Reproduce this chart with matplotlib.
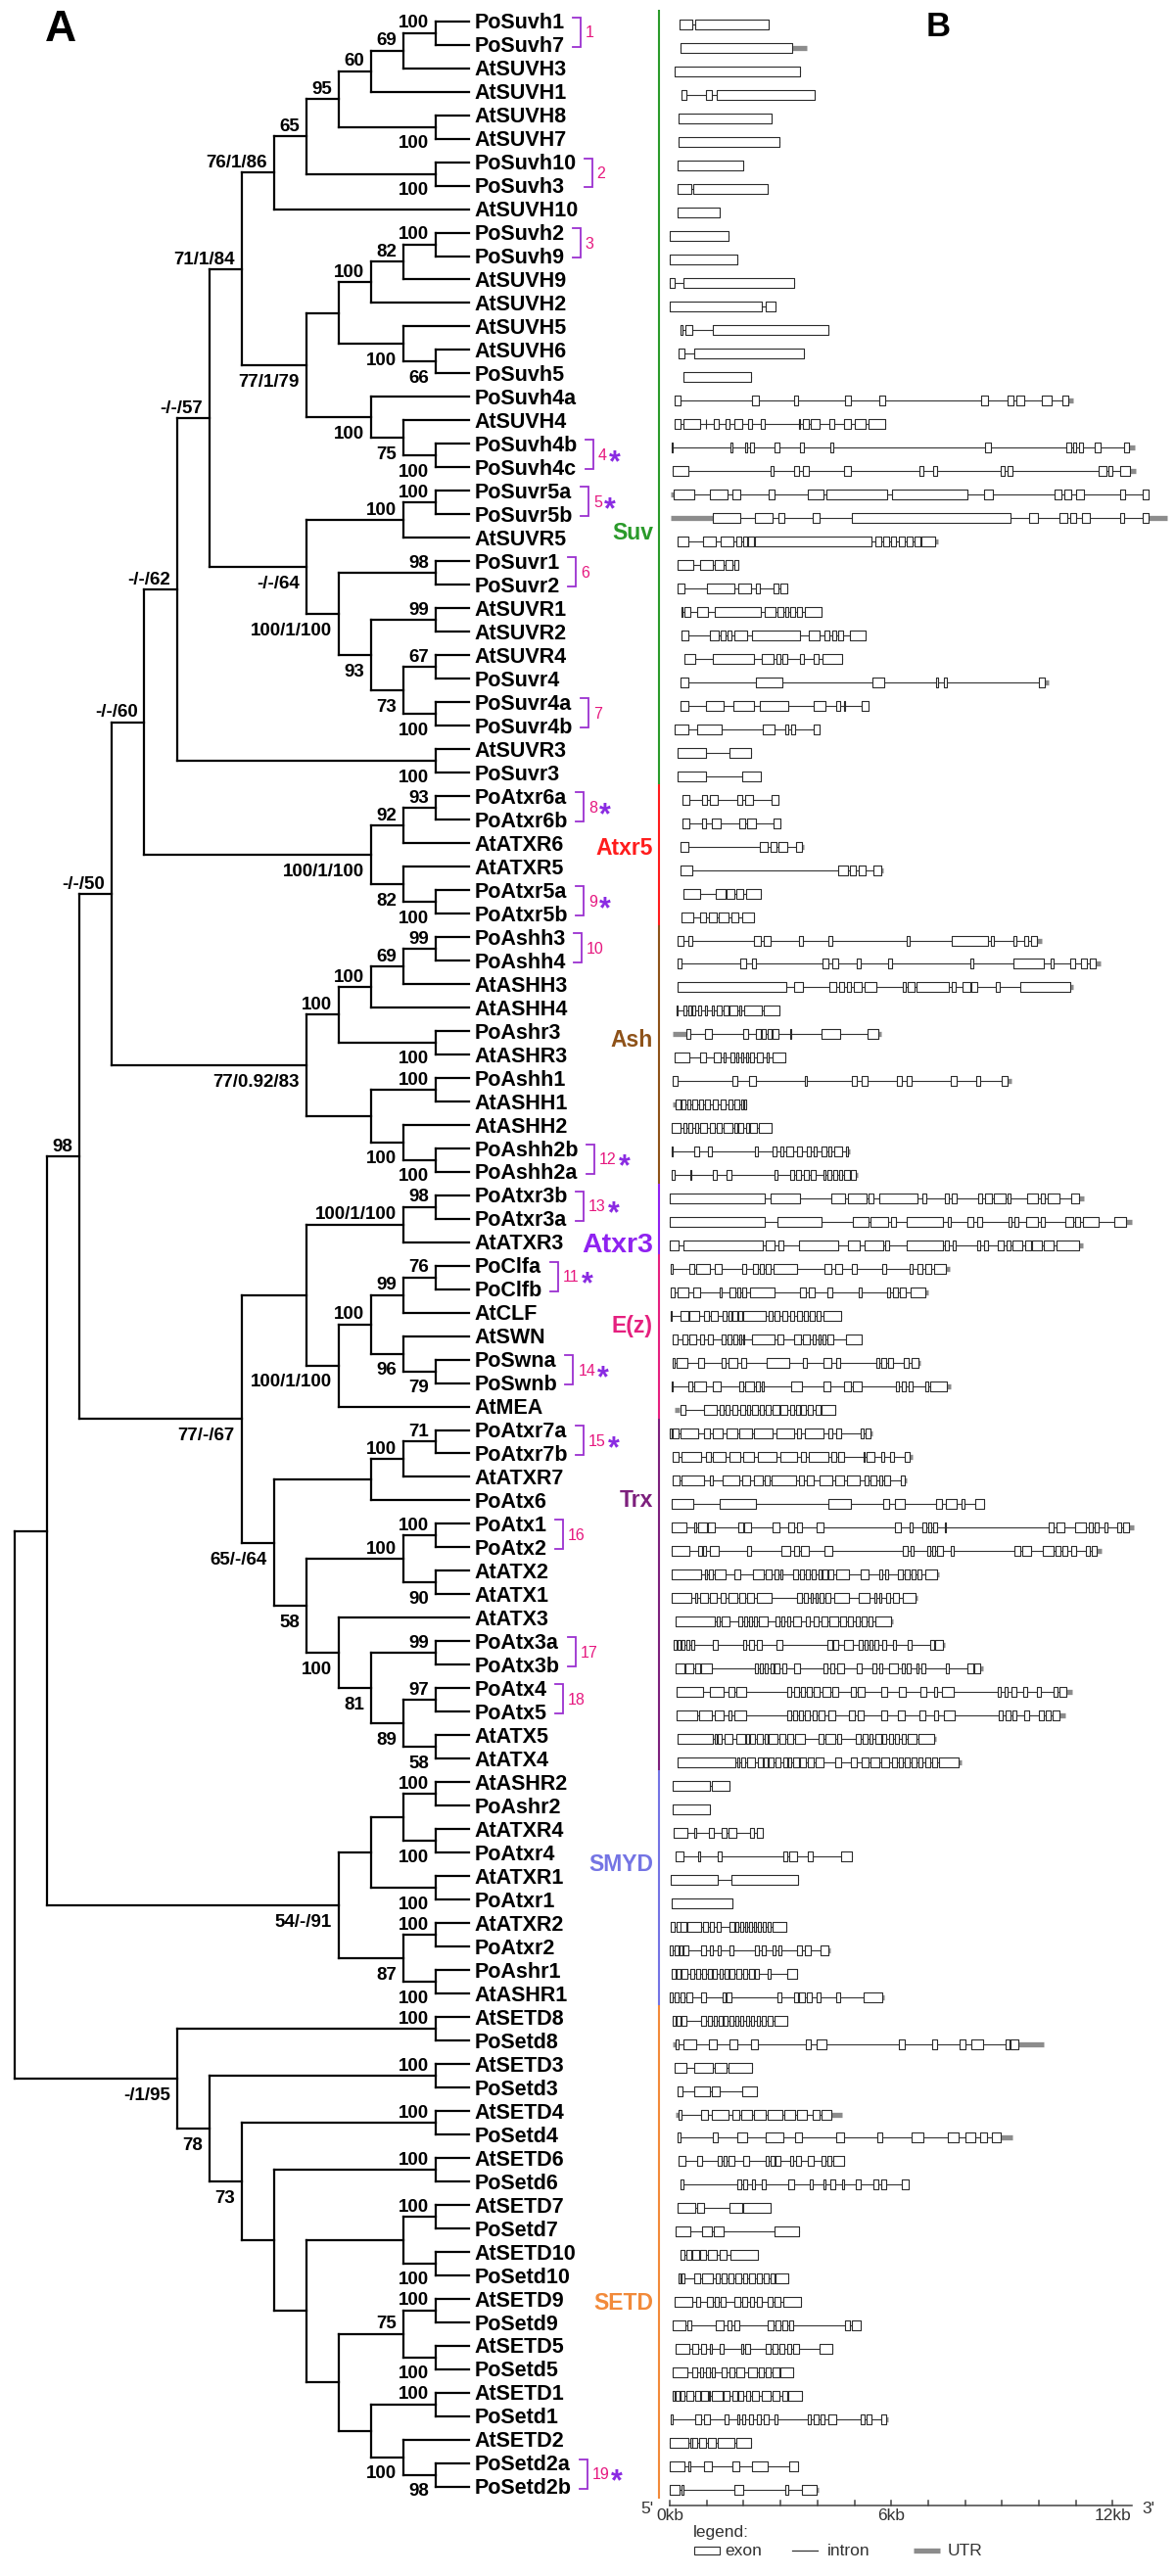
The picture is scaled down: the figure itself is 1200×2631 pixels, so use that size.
import matplotlib
matplotlib.use("Agg")
import matplotlib.pyplot as plt
from matplotlib.patches import Rectangle
from matplotlib.collections import LineCollection, PatchCollection

plt.rcParams['font.family'] = ['Liberation Sans', 'DejaVu Sans']

# ---------------- tree (newick pieces, support values as node labels) ----------------
suvh_a = "((((((PoSuvh1,PoSuvh7)100,AtSUVH3)69,AtSUVH1)60,(AtSUVH8,AtSUVH7)100)95,(PoSuvh10,PoSuvh3)100)65,AtSUVH10)76/1/86"
suvh_b = "((((PoSuvh2,PoSuvh9)100,AtSUVH9)82,AtSUVH2)100,(AtSUVH5,(AtSUVH6,PoSuvh5)66)100)"
suvh_c = "(PoSuvh4a,(AtSUVH4,(PoSuvh4b,PoSuvh4c)100)75)100"
suvr = "(((PoSuvr5a,PoSuvr5b)100,AtSUVR5)100,((PoSuvr1,PoSuvr2)98,((AtSUVR1,AtSUVR2)99,((AtSUVR4,PoSuvr4)67,(PoSuvr4a,PoSuvr4b)100)73)93)100/1/100)-/-/64"
suvr3 = "(AtSUVR3,PoSuvr3)100"
atxr5 = "(((PoAtxr6a,PoAtxr6b)93,AtATXR6)92,(AtATXR5,(PoAtxr5a,PoAtxr5b)100)82)100/1/100"
ash = "(((((PoAshh3,PoAshh4)99,AtASHH3)69,AtASHH4)100,(PoAshr3,AtASHR3)100)100,((PoAshh1,AtASHH1)100,(AtASHH2,(PoAshh2b,PoAshh2a)100)100))77/0.92/83"
atxr3_ez = "(((PoAtxr3b,PoAtxr3a)98,AtATXR3)100/1/100,((((PoClfa,PoClfb)76,AtCLF)99,(AtSWN,(PoSwna,PoSwnb)79)96)100,AtMEA)100/1/100)"
trx = "((((PoAtxr7a,PoAtxr7b)71,AtATXR7)100,PoAtx6),(((PoAtx1,PoAtx2)100,(AtATX2,AtATX1)90)100,(AtATX3,((PoAtx3a,PoAtx3b)99,((PoAtx4,PoAtx5)97,(AtATX5,AtATX4)58)89)81)100)58)65/-/64"
smyd = "((((AtASHR2,PoAshr2)100,(AtATXR4,PoAtxr4)100),(AtATXR1,PoAtxr1)100),((AtATXR2,PoAtxr2)100,(PoAshr1,AtASHR1)100)87)54/-/91"
setd_inner = "(((AtSETD9,PoSetd9)100,(AtSETD5,PoSetd5)100)75,((AtSETD1,PoSetd1)100,(AtSETD2,(PoSetd2a,PoSetd2b)98)100))"
setd = ("((AtSETD8,PoSetd8)100,((AtSETD3,PoSetd3)100,((AtSETD4,PoSetd4)100,((AtSETD6,PoSetd6)100,"
        "(((AtSETD7,PoSetd7)100,(AtSETD10,PoSetd10)100)," + setd_inner + ")))73)78)-/1/95")

n7 = "(" + suvh_a + ",(" + suvh_b + "," + suvh_c + ")77/1/79)71/1/84"
n8 = "(" + n7 + "," + suvr + ")-/-/57"
n9 = "(" + n8 + "," + suvr3 + ")-/-/62"
n10 = "(" + n9 + "," + atxr5 + ")-/-/60"
n11 = "(" + n10 + "," + ash + ")-/-/50"
ez = "(" + atxr3_ez + "," + trx + ")77/-/67"
n12 = "(" + n11 + "," + ez + ")98"
n13 = "(" + n12 + "," + smyd + ")"
tree_newick = "(" + n13 + "," + setd + ");"

# ---------------- groups and paralog pairs ----------------
group_names = ['Suv', 'Atxr5', 'Ash', 'Atxr3', 'E(z)', 'Trx', 'SMYD', 'SETD']
group_sizes = [33, 6, 11, 3, 7, 15, 10, 21]
group_colors = ['#2a9a2a', '#ff1c1c', '#8e5219', '#8f22f0', '#e5207f', '#7d207d', '#7474e4', '#f28a3a']

pair_first = ['PoSuvh1', 'PoSuvh10', 'PoSuvh2', 'PoSuvh4b', 'PoSuvr5a', 'PoSuvr1', 'PoSuvr4a',
              'PoAtxr6a', 'PoAtxr5a', 'PoAshh3', 'PoClfa', 'PoAshh2b', 'PoAtxr3b', 'PoSwna',
              'PoAtxr7a', 'PoAtx1', 'PoAtx3a', 'PoAtx4', 'PoSetd2a']
pair_number = [1, 2, 3, 4, 5, 6, 7, 8, 9, 10, 11, 12, 13, 14, 15, 16, 17, 18, 19]
pair_star = [0, 0, 0, 1, 1, 0, 0, 1, 1, 0, 1, 1, 1, 1, 1, 0, 0, 0, 1]

# ---------------- gene structures: exon start/end pairs in kb, leaf order ----------------
suv_exons = [
    [0.26, 0.62, 0.69, 2.69],                                   # PoSuvh1
    [0.28, 3.31],                                               # PoSuvh7
    [0.13, 3.53],                                               # AtSUVH3
    [0.33, 0.44, 0.99, 1.14, 1.27, 3.92],                       # AtSUVH1
    [0.24, 2.75],                                               # AtSUVH8
    [0.24, 2.98],                                               # AtSUVH7
    [0.20, 1.99],                                               # PoSuvh10
    [0.20, 0.58, 0.64, 2.65],                                   # PoSuvh3
    [0.20, 1.35],                                               # AtSUVH10
    [0.0, 1.59],                                                # PoSuvh2
    [0.0, 1.82],                                                # PoSuvh9
    [0.0, 0.12, 0.38, 3.37],                                    # AtSUVH9
    [0.0, 2.5, 2.59, 2.87],                                     # AtSUVH2
    [0.29, 0.35, 0.42, 0.6, 1.16, 4.31],                        # AtSUVH5
    [0.25, 0.39, 0.65, 3.64],                                   # AtSUVH6
    [0.36, 2.21],                                               # PoSuvh5
    [0.14, 0.28, 2.23, 2.41, 3.38, 3.48, 4.75, 4.92, 5.67, 5.83, 8.44, 8.62,
     9.16, 9.31, 9.40, 9.60, 10.09, 10.35, 10.64, 10.79],       # PoSuvh4a
    [0.14, 0.28, 0.38, 0.83, 0.97, 0.99, 1.2, 1.33, 1.5, 1.61, 1.75, 1.95,
     2.12, 2.24, 2.46, 2.58, 3.51, 3.54, 3.6, 3.76, 3.83, 4.06, 4.32, 4.46,
     4.71, 4.92, 5.01, 5.3, 5.39, 5.83],                        # AtSUVH4
    [0.06, 0.09, 1.65, 1.69, 2.05, 2.09, 2.17, 2.29, 2.83, 2.97, 3.52, 3.63,
     4.34, 4.43, 8.54, 8.70, 10.74, 10.87, 10.92, 11.02, 11.08, 11.2,
     11.5, 11.67, 12.32, 12.44],                                # PoSuvh4b
    [0.09, 0.5, 2.73, 2.81, 3.38, 3.49, 3.61, 3.76, 4.71, 4.91, 6.77, 6.88,
     7.14, 7.25, 8.97, 9.06, 9.14, 9.29, 11.63, 11.82, 11.88, 12.0,
     12.21, 12.46],                                             # PoSuvh4c
    [0.11, 0.65, 1.1, 1.57, 1.71, 1.91, 2.67, 2.83, 3.74, 4.16, 4.25, 5.9,
     6.02, 8.06, 8.51, 8.76, 10.42, 10.61, 10.69, 10.87, 11.0, 11.23,
     12.2, 12.34, 12.81, 12.98],                                # PoSuvr5a
    [1.16, 1.91, 2.32, 2.78, 2.94, 3.10, 3.88, 4.06, 4.94, 9.22, 9.73, 9.98,
     10.56, 10.76, 10.85, 11.01, 11.16, 11.37, 12.19, 12.32, 12.81, 12.96],  # PoSuvr5b
    [0.2, 0.5, 0.9, 1.24, 1.38, 1.72, 1.8, 1.93, 1.98, 2.09, 2.13, 2.28,
     2.3, 5.46, 5.56, 5.74, 5.79, 5.94, 5.99, 6.14, 6.22, 6.37, 6.41, 6.58,
     6.63, 6.79, 6.83, 7.2],                                    # AtSUVR5
    [0.2, 0.64, 0.81, 1.16, 1.23, 1.45, 1.5, 1.71, 1.74, 1.85],  # PoSuvr1
    [0.2, 0.39, 1.0, 1.74, 1.87, 2.21, 2.34, 2.45, 2.8, 2.94, 2.99, 3.17],  # PoSuvr2
    [0.31, 0.35, 0.41, 0.56, 0.74, 1.04, 1.22, 2.46, 2.58, 2.87, 2.93, 3.07,
     3.12, 3.21, 3.27, 3.39, 3.45, 3.58, 3.65, 4.11],           # AtSUVR1
    [0.33, 0.5, 1.08, 1.33, 1.38, 1.52, 1.56, 1.68, 1.74, 2.09, 2.22, 3.54,
     3.76, 4.07, 4.2, 4.32, 4.39, 4.5, 4.57, 4.69, 4.87, 5.3],  # AtSUVR2
    [0.41, 0.69, 1.17, 2.28, 2.5, 2.81, 2.88, 3.01, 3.05, 3.17, 3.52, 3.63,
     3.91, 4.04, 4.15, 4.66],                                   # AtSUVR4
    [0.29, 0.5, 2.34, 3.05, 5.5, 5.81, 7.21, 7.28, 7.43, 7.5, 10.01, 10.17],  # PoSuvr4
    [0.29, 0.51, 0.99, 1.45, 1.72, 2.28, 2.44, 3.21, 3.9, 4.23, 4.5, 4.61,
     4.73, 4.76, 5.19, 5.39],                                   # PoSuvr4a
    [0.13, 0.5, 0.73, 1.4, 2.51, 2.83, 3.13, 3.22, 3.28, 3.4, 3.9, 4.06],  # PoSuvr4b
    [0.2, 0.99, 1.61, 2.2],                                     # AtSUVR3
    [0.2, 0.99, 1.97, 2.46],                                    # PoSuvr3
]

atxr5_exons = [
    [0.35, 0.53, 0.87, 1.02, 1.08, 1.29, 1.82, 1.97, 2.03, 2.25, 2.75, 2.94],  # PoAtxr6a
    [0.35, 0.53, 0.87, 0.99, 1.13, 1.38, 1.89, 2.05, 2.09, 2.34, 2.81, 3.01],  # PoAtxr6b
    [0.29, 0.51, 2.43, 2.66, 2.72, 2.9, 2.94, 3.19, 3.43, 3.58],             # AtATXR6
    [0.29, 0.61, 4.57, 4.82, 4.88, 5.05, 5.11, 5.3, 5.53, 5.72],             # AtATXR5
    [0.38, 0.83, 1.25, 1.5, 1.54, 1.74, 1.8, 2.0, 2.06, 2.46],               # PoAtxr5a
    [0.32, 0.64, 0.81, 0.99, 1.05, 1.27, 1.32, 1.6, 1.68, 1.86, 1.97, 2.28],  # PoAtxr5b
]

ash_exons = [
    [0.2, 0.37, 0.5, 0.61, 2.28, 2.48, 2.55, 2.73, 3.51, 3.61, 4.29, 4.4,
     6.43, 6.5, 7.65, 8.61, 8.7, 8.77, 9.31, 9.4, 9.6, 9.71, 9.78, 9.95],   # PoAshh3
    [0.2, 0.31, 1.91, 2.06, 2.22, 2.33, 4.15, 4.31, 4.39, 4.55, 5.06, 5.17,
     5.92, 6.02, 8.15, 8.22, 9.31, 10.12, 10.31, 10.4, 10.86, 10.97,
     11.15, 11.29, 11.39, 11.54],                               # PoAshh4
    [0.2, 3.16, 3.38, 3.62, 4.33, 4.5, 4.58, 4.72, 4.79, 4.92, 4.98, 5.2,
     5.29, 5.61, 6.31, 6.4, 6.45, 6.62, 6.69, 7.56, 7.65, 7.74, 7.94, 8.13,
     8.18, 8.33, 8.82, 8.93, 9.5, 10.85],                       # AtASHH3
    [0.18, 0.21, 0.38, 0.45, 0.5, 0.58, 0.62, 0.7, 0.76, 0.85, 0.95, 1.02,
     1.13, 1.2, 1.28, 1.4, 1.47, 1.6, 1.63, 1.82, 1.89, 1.94, 2.01, 2.5,
     2.54, 2.98],                                               # AtASHH4
    [0.44, 0.55, 0.95, 1.14, 2.0, 2.12, 2.34, 2.46, 2.5, 2.6, 2.66, 2.75,
     2.79, 2.95, 3.25, 3.28, 4.12, 4.61, 5.37, 5.65],           # PoAshr3
    [0.13, 0.54, 0.83, 0.99, 1.19, 1.39, 1.47, 1.5, 1.65, 1.74, 1.8, 1.87,
     1.93, 2.0, 2.06, 2.13, 2.18, 2.28, 2.35, 2.53, 2.62, 2.68, 2.78, 3.13],  # AtASHR3
    [0.09, 0.21, 1.7, 1.83, 2.15, 2.33, 3.65, 3.71, 4.94, 5.07, 5.21, 5.35,
     6.16, 6.28, 6.42, 6.55, 7.62, 7.78, 8.3, 8.42, 8.99, 9.14],  # PoAshh1
    [0.15, 0.28, 0.33, 0.42, 0.48, 0.57, 0.62, 0.73, 0.79, 0.9, 0.96, 1.1,
     1.16, 1.31, 1.38, 1.52, 1.58, 1.69, 1.74, 1.89, 1.93, 2.0, 2.02, 2.07],  # AtASHH1
    [0.06, 0.29, 0.37, 0.46, 0.51, 0.62, 0.68, 0.77, 0.83, 1.02, 1.08, 1.22,
     1.28, 1.4, 1.47, 1.69, 1.75, 1.82, 1.87, 2.0, 2.06, 2.14, 2.18, 2.37,
     2.41, 2.76],                                               # AtASHH2
    [0.06, 0.09, 0.65, 0.79, 1.04, 1.14, 2.32, 2.4, 2.78, 2.88, 2.99, 3.08,
     3.16, 3.33, 3.44, 3.58, 3.72, 3.83, 3.9, 3.97, 4.11, 4.25, 4.29, 4.38,
     4.46, 4.68, 4.77, 4.84],                                   # PoAshh2b
    [0.06, 0.13, 0.55, 0.59, 1.16, 1.27, 1.54, 1.66, 2.83, 2.92, 3.27, 3.36,
     3.43, 3.56, 3.63, 3.76, 3.83, 3.94, 4.17, 4.22, 4.27, 4.37, 4.44, 4.53,
     4.59, 4.66, 4.72, 4.87, 4.9, 5.03],                        # PoAshh2a
]

atxr3_exons = [
    [0.0, 2.57, 2.72, 3.53, 4.37, 4.75, 4.83, 5.32, 5.39, 5.51, 5.67, 6.72,
     6.84, 6.94, 7.46, 7.55, 7.64, 7.76, 8.35, 8.47, 8.53, 8.74, 8.79, 9.11,
     9.14, 9.23, 9.69, 9.98, 10.04, 10.17, 10.24, 10.55, 10.88, 11.08],  # PoAtxr3b
    [0.0, 2.57, 2.92, 4.11, 4.96, 5.39, 5.44, 5.92, 5.99, 6.13, 6.42, 7.41,
     7.52, 7.6, 8.06, 8.22, 8.33, 8.47, 9.17, 9.27, 9.34, 9.43, 9.66, 9.98,
     10.04, 10.15, 10.72, 10.92, 10.99, 11.11, 11.19, 11.61, 12.03, 12.37],  # PoAtxr3a
    [0.0, 0.23, 0.37, 2.53, 2.59, 2.83, 2.95, 3.07, 3.51, 4.57, 4.83, 5.15,
     5.27, 5.79, 5.84, 5.94, 6.42, 7.39, 7.46, 7.55, 7.66, 7.74, 8.33, 8.42,
     8.51, 8.61, 8.88, 9.04, 9.13, 9.23, 9.28, 9.55, 9.62, 9.78, 9.82, 10.07,
     10.13, 10.39, 10.49, 11.1],                                # AtATXR3
]

ez_exons = [
    [0.03, 0.09, 0.53, 0.67, 0.72, 1.08, 1.22, 1.4, 1.97, 2.06, 2.26, 2.39,
     2.45, 2.55, 2.6, 2.72, 2.82, 3.45, 4.2, 4.37, 4.48, 4.66, 4.94, 5.07,
     5.76, 5.87, 6.51, 6.59, 6.71, 6.84, 6.92, 7.09, 7.16, 7.49],  # PoClfa
    [0.03, 0.12, 0.21, 0.5, 0.64, 0.81, 1.34, 1.4, 1.61, 1.78, 1.82, 1.91,
     1.96, 2.06, 2.17, 2.83, 3.54, 3.68, 3.77, 3.93, 4.28, 4.41, 5.12, 5.19,
     5.9, 5.98, 6.04, 6.17, 6.24, 6.4, 6.53, 6.92],             # PoClfb
    [0.03, 0.06, 0.29, 0.5, 0.53, 0.79, 0.94, 1.05, 1.11, 1.29, 1.43, 1.54,
     1.6, 1.66, 1.71, 1.82, 1.86, 1.97, 1.99, 2.61, 2.68, 2.79, 2.83, 2.96,
     3.05, 3.19, 3.27, 3.38, 3.45, 3.58, 3.63, 3.74, 3.8, 3.93, 3.97, 4.09,
     4.17, 4.63],                                               # AtCLF
    [0.09, 0.2, 0.35, 0.49, 0.53, 0.72, 0.81, 0.94, 1.04, 1.16, 1.4, 1.51,
     1.56, 1.66, 1.72, 1.82, 1.89, 1.93, 1.98, 2.02, 2.22, 2.83, 2.92, 3.07,
     3.36, 3.56, 3.61, 3.79, 3.86, 3.95, 4.02, 4.09, 4.13, 4.22, 4.28, 4.43,
     4.78, 5.19],                                               # AtSWN
    [0.07, 0.13, 0.19, 0.49, 0.76, 0.94, 1.4, 1.5, 1.6, 1.82, 1.94, 2.06,
     2.62, 3.23, 3.61, 3.72, 4.17, 4.38, 4.5, 4.62, 5.61, 5.67, 5.73, 5.85,
     5.91, 6.04, 6.33, 6.46, 6.54, 6.75],                       # PoSwna
    [0.05, 0.08, 0.5, 0.61, 0.67, 0.99, 1.17, 1.38, 1.88, 1.99, 2.05, 2.28,
     2.34, 2.43, 2.49, 2.55, 3.28, 3.58, 4.16, 4.36, 4.73, 4.9, 4.96, 5.21,
     6.13, 6.2, 6.28, 6.4, 6.46, 6.59, 6.91, 7.0, 7.05, 7.5],   # PoSwnb
    [0.28, 0.42, 0.94, 1.28, 1.34, 1.47, 1.52, 1.63, 1.69, 1.83, 1.91, 2.05,
     2.09, 2.18, 2.24, 2.39, 2.43, 2.55, 2.61, 2.72, 2.78, 2.96, 3.01, 3.19,
     3.27, 3.38, 3.43, 3.52, 3.56, 3.7, 3.74, 3.88, 3.95, 4.08, 4.11, 4.48],  # AtMEA
]

trx_exons = [
    [0.0, 0.04, 0.07, 0.23, 0.28, 0.76, 0.92, 1.1, 1.17, 1.43, 1.54, 1.83,
     1.89, 2.22, 2.29, 2.78, 2.89, 3.36, 3.44, 3.56, 3.65, 4.17, 4.3, 4.41,
     4.5, 4.64, 5.17, 5.26, 5.3, 5.44],                         # PoAtxr7a
    [0.07, 0.24, 0.32, 0.86, 0.99, 1.12, 1.17, 1.52, 1.61, 1.91, 2.0, 2.29,
     2.39, 2.88, 2.99, 3.45, 3.56, 3.68, 3.77, 4.29, 4.37, 4.5, 4.56, 4.73,
     5.24, 5.28, 5.32, 5.54, 5.74, 5.82, 5.98, 6.08, 6.37, 6.5],  # PoAtxr7b
    [0.07, 0.26, 0.32, 0.94, 1.08, 1.17, 1.43, 1.89, 1.97, 2.18, 2.28, 2.52,
     2.57, 2.71, 2.75, 3.42, 3.49, 3.63, 3.71, 3.9, 4.05, 4.39, 4.48, 4.73,
     4.8, 5.15, 5.27, 5.38, 5.44, 5.61, 5.67, 5.76, 5.82, 5.96, 6.27, 6.36],  # AtATXR7
    [0.06, 0.64, 1.36, 2.33, 4.29, 4.92, 5.79, 5.93, 6.1, 6.37, 7.21, 7.37,
     7.48, 7.76, 7.9, 7.99, 8.28, 8.51],                        # PoAtx6
    [0.04, 0.46, 0.67, 0.72, 0.78, 1.01, 1.04, 1.23, 1.86, 2.0, 2.02, 2.2,
     2.79, 2.96, 3.22, 3.38, 3.44, 3.59, 3.97, 4.16, 6.11, 6.27, 6.5, 6.59,
     6.84, 6.95, 6.99, 7.07, 7.14, 7.23, 7.46, 7.49, 10.27, 10.39, 10.49, 10.68,
     10.99, 11.28, 11.36, 11.45, 11.5, 11.63, 11.77, 11.86, 12.11, 12.23,
     12.28, 12.44],                                             # PoAtx1
    [0.04, 0.53, 0.78, 0.87, 0.9, 0.99, 1.08, 1.32, 2.09, 2.2, 3.03, 3.25,
     3.38, 3.51, 3.56, 3.76, 4.19, 4.39, 6.31, 6.45, 6.52, 6.61, 6.97, 7.06,
     7.1, 7.18, 7.25, 7.41, 7.6, 7.69, 9.34, 9.5, 9.56, 9.8, 10.1, 10.39,
     10.46, 10.58, 10.64, 10.78, 10.88, 11.01, 11.27, 11.38, 11.43, 11.57],  # PoAtx2
    [0.04, 0.85, 0.95, 1.01, 1.06, 1.17, 1.22, 1.52, 1.74, 1.91, 2.25, 2.55,
     2.61, 2.75, 2.83, 2.94, 2.99, 3.06, 3.35, 3.47, 3.52, 3.63, 3.69, 3.8,
     3.85, 3.95, 4.02, 4.11, 4.15, 4.26, 4.3, 4.44, 4.5, 4.86, 5.16, 5.39,
     5.67, 5.76, 5.83, 5.91, 6.17, 6.31, 6.37, 6.5, 6.56, 6.65, 6.71, 6.82,
     6.93, 7.25],                                               # AtATX2
    [0.04, 0.58, 0.7, 0.73, 0.81, 1.04, 1.08, 1.28, 1.38, 1.5, 1.59, 1.82,
     1.89, 2.05, 2.09, 2.29, 2.37, 2.76, 3.44, 3.58, 3.63, 3.74, 3.81, 3.88,
     3.94, 4.0, 4.05, 4.16, 4.21, 4.36, 4.45, 4.86, 5.12, 5.41, 5.54, 5.61,
     5.67, 5.74, 5.85, 5.96, 6.04, 6.22, 6.31, 6.65],           # AtATX1
    [0.15, 1.22, 1.28, 1.34, 1.4, 1.63, 1.86, 1.95, 2.02, 2.09, 2.15, 2.23,
     2.28, 2.37, 2.42, 2.66, 2.87, 2.96, 3.03, 3.1, 3.17, 3.27, 3.35, 3.56,
     3.7, 3.79, 3.91, 4.04, 4.11, 4.27, 4.33, 4.57, 4.61, 4.78, 4.84, 4.95,
     5.03, 5.15, 5.21, 5.32, 5.39, 5.5, 5.58, 5.99],            # AtATX3
    [0.11, 0.18, 0.22, 0.29, 0.33, 0.41, 0.45, 0.53, 0.58, 0.66, 1.17, 1.31,
     1.98, 2.07, 2.14, 2.29, 2.37, 2.5, 2.9, 3.04, 4.26, 4.39, 4.44, 4.57,
     4.73, 4.95, 5.12, 5.22, 5.27, 5.37, 5.41, 5.49, 5.54, 5.65, 5.76, 5.87,
     6.04, 6.13, 6.45, 6.54, 7.05, 7.16, 7.2, 7.39],            # PoAtx3a
    [0.15, 0.39, 0.42, 0.64, 0.7, 0.83, 0.85, 1.13, 2.32, 2.39, 2.44, 2.52,
     2.57, 2.66, 2.72, 2.81, 2.85, 2.96, 3.06, 3.15, 3.38, 3.53, 4.17, 4.28,
     4.35, 4.46, 4.53, 4.72, 5.06, 5.21, 5.49, 5.6, 5.67, 5.76, 5.94, 6.17,
     6.28, 6.36, 6.41, 6.52, 6.68, 6.75, 6.81, 6.93, 7.49, 7.57, 8.06, 8.22,
     8.26, 8.42],                                               # PoAtx3b
    [0.18, 0.9, 1.1, 1.47, 1.59, 1.74, 1.8, 2.06, 3.17, 3.3, 3.38, 3.5,
     3.56, 3.67, 3.72, 3.85, 3.91, 4.07, 4.14, 4.34, 4.4, 4.57, 4.9, 5.03,
     5.1, 5.28, 5.72, 5.9, 6.2, 6.39, 6.79, 6.94, 7.16, 7.25, 7.38, 7.69,
     8.88, 8.97, 9.06, 9.16, 9.25, 9.39, 9.57, 9.68, 9.95, 10.05, 10.39, 10.51,
     10.57, 10.74],                                             # PoAtx4
    [0.18, 0.74, 0.8, 1.13, 1.22, 1.45, 1.59, 1.68, 1.75, 2.06, 3.17, 3.28,
     3.34, 3.45, 3.49, 3.61, 3.67, 3.8, 3.86, 3.97, 4.03, 4.2, 4.29, 4.48,
     4.86, 5.01, 5.1, 5.26, 5.73, 5.9, 6.18, 6.37, 6.77, 6.92, 7.16, 7.26,
     7.43, 7.71, 8.9, 9.02, 9.09, 9.23, 9.28, 9.39, 9.61, 9.73, 9.99, 10.12,
     10.19, 10.32, 10.38, 10.56],                               # PoAtx5
    [0.21, 1.16, 1.21, 1.27, 1.3, 1.41, 1.48, 1.71, 1.8, 2.03, 2.07, 2.14,
     2.17, 2.32, 2.37, 2.51, 2.57, 2.64, 2.69, 2.92, 2.98, 3.12, 3.17, 3.33,
     3.39, 3.65, 4.02, 4.16, 4.22, 4.48, 4.54, 4.63, 5.03, 5.17, 5.22, 5.37,
     5.42, 5.5, 5.58, 5.72, 5.76, 5.87, 5.93, 6.04, 6.1, 6.22, 6.28, 6.39,
     6.44, 6.68, 6.75, 7.16],                                   # AtATX5
    [0.21, 1.79, 1.83, 1.89, 1.93, 2.05, 2.09, 2.32, 2.39, 2.51, 2.55, 2.64,
     2.69, 2.81, 2.87, 3.01, 3.07, 3.17, 3.21, 3.3, 3.35, 3.49, 3.54, 3.7,
     3.74, 3.89, 3.94, 4.16, 4.48, 4.63, 4.9, 5.07, 5.21, 5.39, 5.45, 5.67,
     5.72, 5.94, 6.02, 6.15, 6.2, 6.31, 6.37, 6.5, 6.55, 6.68, 6.73, 6.84,
     6.91, 7.05, 7.12, 7.25, 7.3, 7.83],                        # AtATX4
]

smyd_exons = [
    [0.07, 1.08, 1.14, 1.63],                                   # AtASHR2
    [0.07, 1.08],                                               # PoAshr2
    [0.11, 0.49, 0.67, 0.72, 1.06, 1.19, 1.41, 1.54, 1.59, 1.8, 2.18, 2.29,
     2.36, 2.53],                                               # AtATXR4
    [0.15, 0.37, 0.78, 0.83, 1.29, 1.4, 3.07, 3.19, 3.23, 3.44, 3.74, 3.86,
     4.63, 4.94],                                               # PoAtxr4
    [0.03, 1.31, 1.68, 3.47],                                   # AtATXR1
    [0.06, 1.71],                                               # PoAtxr1
    [0.03, 0.14, 0.18, 0.28, 0.3, 0.46, 0.49, 0.85, 0.9, 1.04, 1.08, 1.19,
     1.28, 1.39, 1.61, 1.74, 1.79, 1.86, 1.91, 1.98, 2.03, 2.1, 2.15, 2.22,
     2.27, 2.34, 2.39, 2.46, 2.51, 2.6, 2.64, 2.73, 2.78, 3.15],  # AtATXR2
    [0.0, 0.09, 0.13, 0.23, 0.26, 0.35, 0.38, 0.51, 0.85, 0.97, 1.08, 1.17,
     1.29, 1.38, 1.61, 1.72, 2.32, 2.41, 2.5, 2.6, 2.78, 2.87, 2.94, 3.03,
     3.45, 3.58, 3.65, 3.83, 4.09, 4.29],                       # PoAtxr2
    [0.06, 0.15, 0.18, 0.28, 0.32, 0.49, 0.56, 0.67, 0.72, 0.83, 0.88, 0.99,
     1.04, 1.13, 1.17, 1.28, 1.34, 1.43, 1.48, 1.59, 1.63, 1.74, 1.8, 1.93,
     1.98, 2.09, 2.16, 2.29, 2.32, 2.41, 2.64, 2.72, 3.17, 3.44],  # PoAshr1
    [0.0, 0.07, 0.14, 0.24, 0.28, 0.39, 0.44, 0.62, 0.85, 0.99, 1.43, 1.5,
     1.54, 1.68, 2.92, 3.03, 3.38, 3.47, 3.51, 3.65, 3.72, 3.85, 3.97, 4.08,
     4.52, 4.61, 5.26, 5.76],                                   # AtASHR1
]

setd_exons = [
    [0.09, 0.15, 0.19, 0.3, 0.33, 0.44, 0.86, 0.99, 1.04, 1.15, 1.2, 1.28,
     1.33, 1.42, 1.47, 1.57, 1.61, 1.72, 1.77, 1.86, 1.91, 2.0, 2.06, 2.15,
     2.2, 2.29, 2.35, 2.44, 2.49, 2.6, 2.64, 2.78, 2.83, 3.17],  # AtSETD8
    [0.17, 0.24, 0.37, 0.72, 1.06, 1.28, 1.63, 1.83, 2.2, 2.39, 3.7, 3.83,
     3.99, 4.25, 6.2, 6.37, 7.12, 7.23, 7.85, 8.01, 8.17, 8.49, 9.09, 9.2,
     9.22, 9.43],                                               # PoSetd8
    [0.12, 0.46, 0.65, 1.17, 1.23, 1.54, 1.6, 2.23],            # AtSETD3
    [0.21, 0.35, 0.67, 1.1, 1.14, 1.36, 1.96, 2.35],            # PoSetd3
    [0.23, 0.32, 0.85, 1.04, 1.13, 1.59, 1.71, 1.89, 1.94, 2.23, 2.28, 2.6,
     2.64, 3.06, 3.1, 3.39, 3.45, 3.72, 3.86, 4.06, 4.11, 4.37],  # AtSETD4
    [0.21, 0.28, 1.17, 1.29, 1.83, 2.09, 2.61, 3.08, 3.39, 3.58, 4.52, 4.71,
     5.63, 5.76, 6.56, 6.86, 7.53, 7.83, 8.01, 8.28, 8.42, 8.59, 8.74, 8.97],  # PoSetd4
    [0.24, 0.42, 0.73, 0.87, 1.31, 1.4, 1.45, 1.54, 1.59, 1.74, 2.0, 2.14,
     2.6, 2.69, 2.73, 2.83, 2.86, 3.01, 3.27, 3.35, 3.42, 3.56, 3.74, 3.9,
     4.11, 4.22, 4.27, 4.38, 4.44, 4.73],                       # AtSETD6
    [0.28, 0.37, 1.83, 1.94, 2.0, 2.09, 2.23, 2.32, 2.49, 2.61, 3.21, 3.38,
     3.78, 3.87, 4.17, 4.22, 4.35, 4.48, 4.66, 4.72, 5.03, 5.17, 5.51, 5.65,
     5.72, 5.87, 6.29, 6.46],                                   # PoSetd6
    [0.21, 0.7, 0.73, 0.94, 1.61, 1.95, 2.0, 2.72],             # AtSETD7
    [0.17, 0.55, 0.88, 1.13, 1.19, 1.45, 2.84, 3.5],            # PoSetd7
    [0.29, 0.41, 0.45, 0.58, 0.62, 0.79, 0.83, 0.99, 1.04, 1.28, 1.34, 1.54,
     1.65, 2.39],                                               # AtSETD10
    [0.24, 0.28, 0.32, 0.41, 0.67, 0.83, 0.88, 1.17, 1.24, 1.36, 1.41, 1.54,
     1.6, 1.72, 1.78, 1.94, 1.99, 2.09, 2.14, 2.32, 2.37, 2.5, 2.55, 2.69,
     2.73, 2.83, 2.87, 3.21],                                   # PoSetd10
    [0.12, 0.6, 0.72, 0.83, 1.01, 1.17, 1.22, 1.32, 1.38, 1.5, 1.74, 1.91,
     1.95, 2.09, 2.17, 2.29, 2.35, 2.5, 2.64, 2.78, 2.83, 3.01, 3.08, 3.56],  # AtSETD9
    [0.07, 0.42, 0.49, 0.58, 1.25, 1.47, 1.56, 1.68, 1.74, 1.89, 2.66, 2.81,
     2.87, 2.99, 3.06, 3.19, 3.24, 3.35, 4.75, 4.89, 4.94, 5.18],  # PoSetd9
    [0.17, 0.53, 0.6, 0.78, 0.85, 0.99, 1.08, 1.13, 1.34, 1.45, 1.93, 2.0,
     2.05, 2.18, 2.6, 2.73, 2.78, 2.92, 2.96, 3.1, 3.17, 3.3, 3.35, 3.49,
     4.06, 4.41],                                               # AtSETD5
    [0.07, 0.47, 0.62, 0.73, 0.81, 0.9, 0.97, 1.08, 1.14, 1.22, 1.4, 1.54,
     1.63, 1.74, 1.8, 2.02, 2.12, 2.35, 2.41, 2.55, 2.61, 2.73, 2.78, 2.96,
     3.01, 3.35],                                               # PoSetd5
    [0.09, 0.13, 0.17, 0.26, 0.29, 0.39, 0.44, 0.64, 0.7, 0.81, 0.85, 1.04,
     1.07, 1.1, 1.14, 1.43, 1.47, 1.63, 1.7, 1.82, 1.86, 2.0, 2.06, 2.18,
     2.24, 2.41, 2.5, 2.72, 2.78, 2.96, 3.06, 3.17, 3.22, 3.58],  # AtSETD1
    [0.03, 0.09, 0.7, 0.85, 0.94, 1.08, 1.48, 1.59, 1.83, 1.89, 1.95, 2.05,
     2.14, 2.26, 2.35, 2.46, 2.55, 2.69, 2.83, 2.92, 3.74, 3.83, 3.9, 4.04,
     4.09, 4.18, 4.29, 4.52, 5.17, 5.28, 5.33, 5.46, 5.72, 5.87],  # PoSetd1
    [0.0, 0.51, 0.56, 0.6, 0.62, 0.73, 0.79, 0.97, 1.04, 1.25, 1.3, 1.74,
     1.8, 2.2],                                                 # AtSETD2
    [0.0, 0.41, 0.51, 0.55, 0.94, 1.15, 1.7, 1.88, 2.24, 2.66, 3.24, 3.47],  # PoSetd2a
    [0.0, 0.26, 0.33, 0.38, 1.74, 1.98, 3.12, 3.22, 3.58, 3.97],  # PoSetd2b
]

utr_segments = [
    ('PoSuvh7', 3.31, 3.72), ('PoSuvh4a', 10.79, 10.92), ('PoSuvh4b', 12.44, 12.6),
    ('PoSuvh4c', 12.46, 12.62), ('PoSuvr5a', 0.02, 0.11), ('PoSuvr5b', 0.02, 1.16),
    ('PoSuvr5b', 12.96, 13.47), ('AtSUVR5', 7.2, 7.28), ('PoSuvr4', 10.17, 10.26),
    ('AtATXR6', 3.58, 3.64), ('AtATXR5', 5.72, 5.79), ('PoAshh3', 9.95, 10.07),
    ('PoAshh4', 11.54, 11.68), ('AtASHH3', 10.85, 10.94), ('PoAshr3', 0.09, 0.44),
    ('PoAshr3', 5.65, 5.72), ('PoAshh1', 9.14, 9.25), ('AtASHH1', 0.09, 0.15),
    ('PoAshh2b', 4.84, 4.89), ('PoAshh2a', 5.03, 5.1), ('PoAtxr3b', 11.08, 11.23),
    ('PoAtxr3a', 12.37, 12.53), ('AtATXR3', 11.1, 11.19), ('PoClfa', 7.49, 7.58),
    ('PoClfb', 6.92, 7.0), ('PoSwna', 6.75, 6.8), ('PoSwnb', 7.5, 7.6),
    ('AtMEA', 0.12, 0.26), ('PoAtxr7a', 5.44, 5.5), ('PoAtxr7b', 6.5, 6.58),
    ('AtATXR7', 6.36, 6.42), ('PoAtx1', 12.44, 12.57), ('PoAtx2', 11.57, 11.71),
    ('AtATX2', 7.25, 7.3), ('AtATX1', 6.65, 6.7), ('AtATX3', 5.99, 6.04),
    ('PoAtx3a', 7.39, 7.45), ('PoAtx3b', 8.42, 8.5), ('PoAtx4', 10.74, 10.9),
    ('PoAtx5', 10.56, 10.72), ('AtATX5', 7.16, 7.22), ('AtATX4', 7.83, 7.9),
    ('PoAtxr2', 4.29, 4.34), ('AtASHR1', 5.76, 5.81), ('PoSetd8', 0.07, 0.17),
    ('PoSetd8', 9.43, 10.12), ('AtSETD4', 0.17, 0.23), ('AtSETD4', 4.37, 4.66),
    ('PoSetd4', 8.97, 9.29), ('PoSetd1', 5.87, 5.92), ('PoSetd2b', 3.97, 4.02),
]

scale_ticks = list(range(13))
scale_labels = {0: '0kb', 6: '6kb', 12: '12kb'}

# ---------------- layout (pixels of the 1200x2631 canvas) ----------------
W, H = 1200, 2631
ROW0, ROW = 21.7, 23.98          # first leaf centre, leaf spacing
TIP_PX, STEP_PX = 478.5, 33.1    # tip x, width of one cladogram level
KB0_PX, KB_PX = 684.0, 37.7      # 0 kb position, pixels per kb
group_label_rows = [21.8, 35.25, 43.4, 52.15, 55.6, 63.0, 78.5, 97.2]
group_label_size = [16.5, 16.5, 16.5, 20.5, 16.5, 16.5, 16.5, 16.5]


def parse_newick(text):
    pos = 0

    def read_label():
        nonlocal pos
        start = pos
        while pos < len(text) and text[pos] not in ',();':
            pos += 1
        return text[start:pos]

    def node():
        nonlocal pos
        kids = []
        if text[pos] == '(':
            pos += 1
            kids.append(node())
            while text[pos] == ',':
                pos += 1
                kids.append(node())
            assert text[pos] == ')'
            pos += 1
        return {'kids': kids, 'label': read_label()}

    root = node()
    assert text[pos] == ';'
    return root


root = parse_newick(tree_newick)
leaves = []


def layout(node):
    if not node['kids']:
        node['level'] = 0
        node['y'] = len(leaves)
        leaves.append(node)
    else:
        for k in node['kids']:
            layout(k)
        node['level'] = 1 + max(k['level'] for k in node['kids'])
        node['y'] = (node['kids'][0]['y'] + node['kids'][-1]['y']) / 2
    node['x'] = -node['level']


layout(root)
leaf_names = [l['label'] for l in leaves]
all_exons = suv_exons + atxr5_exons + ash_exons + atxr3_exons + ez_exons + trx_exons + smyd_exons + setd_exons
assert len(leaf_names) == len(all_exons) == sum(group_sizes)
row_of = {n: i for i, n in enumerate(leaf_names)}

fig = plt.figure(figsize=(W / 100, H / 100), dpi=100)
ax = fig.add_axes([0, 0, 1, 1])
ax.set_xlim(-TIP_PX / STEP_PX, (W - TIP_PX) / STEP_PX)
ax.set_ylim((H - ROW0) / ROW, -ROW0 / ROW)
ax.axis('off')

gx = fig.add_axes([660 / W, 0, 540 / W, 1])
gx.set_xlim((660 - KB0_PX) / KB_PX, (W - KB0_PX) / KB_PX)
gx.set_ylim(ax.get_ylim())
gx.axis('off')

# ---- tree branches ----
segs = []


def collect(node):
    for k in node['kids']:
        segs.append([(node['x'], k['y']), (k['x'], k['y'])])
        collect(k)
    if node['kids']:
        segs.append([(node['x'], node['kids'][0]['y']), (node['x'], node['kids'][-1]['y'])])


collect(root)
ax.add_collection(LineCollection(segs, colors='black', linewidths=1.6, capstyle='projecting'))


# ---- support values: above the stem for upper child, below for lower child ----
def support(node):
    for i, k in enumerate(node['kids']):
        if k['kids'] and k['label']:
            dy = 3.8 if i == 0 else -15.6
            ax.annotate(k['label'], (k['x'], k['y']), xytext=(-5, dy), textcoords='offset points',
                        ha='right', va='baseline', fontsize=13.5, fontweight='bold')
        support(k)


support(root)

# ---- leaf names ----
leaf_text = {}
for l in leaves:
    leaf_text[l['label']] = ax.annotate(l['label'], (0, l['y']), xytext=(4.4, -5.6),
                                        textcoords='offset points', ha='left', va='baseline',
                                        fontsize=15.5, fontweight='bold')

fig.canvas.draw()
renderer = fig.canvas.get_renderer()
inv = ax.transData.inverted()

# ---- paralog brackets ----
num_texts = []
for name, num, star in zip(pair_first, pair_number, pair_star):
    i = row_of[name]
    second = leaf_names[i + 1]
    xend = max(leaf_text[name].get_window_extent(renderer).x1,
               leaf_text[second].get_window_extent(renderer).x1)
    xb = inv.transform((xend + 16, 0))[0]
    xt = xb - 8 / STEP_PX
    top, bot = i - 0.17, i + 1 + 0.08
    ax.plot([xt, xb, xb, xt], [top, top, bot, bot], color='#9b30d0', lw=1.3, solid_joinstyle='miter')
    mid = (top + bot) / 2
    t = ax.text(xb + 5 / STEP_PX, mid + 5.8 / ROW, str(num), color='#e6177f', fontsize=11.5,
                ha='left', va='baseline')
    num_texts.append((t, star, mid))

fig.canvas.draw()
for t, star, mid in num_texts:
    if star:
        x1 = t.get_window_extent(renderer).x1
        xs = inv.transform((x1 + 2, 0))[0]
        ax.text(xs, mid + 17.0 / ROW, '*', color='#8a2be2', fontsize=22, fontweight='bold',
                ha='left', va='baseline')

# ---- group bars and names ----
xline = (673 - KB0_PX) / KB_PX
start = 0
for name, size, col, lrow, fs in zip(group_names, group_sizes, group_colors, group_label_rows, group_label_size):
    gx.plot([xline, xline], [start - 0.5, start + size - 0.5], color=col, lw=1.5, solid_capstyle='butt')
    gx.text((667 - KB0_PX) / KB_PX, lrow, name, color=col, fontsize=fs, fontweight='bold',
            ha='right', va='center')
    start += size

# ---- gene structures ----
utr_by_gene = {}
for g, a, b in utr_segments:
    utr_by_gene.setdefault(g, []).append((a, b))

EXON_H = 10 / ROW
rects = []
for name, ex in zip(leaf_names, all_exons):
    y = row_of[name] + 0.15
    s, e = ex[0::2], ex[1::2]
    gx.plot([min(s), max(e)], [y, y], color='#333333', lw=0.8, zorder=1)
    for a, b in utr_by_gene.get(name, []):
        gx.plot([a, b], [y, y], color='#8c8c8c', lw=3.8, solid_capstyle='butt', zorder=1)
    for a, b in zip(s, e):
        rects.append(Rectangle((a, y - EXON_H / 2), b - a, EXON_H))
gx.add_collection(PatchCollection(rects, facecolor='white', edgecolor='#2b2b2b', linewidth=0.8, zorder=2))

# ---- kb scale ----
ys = (2559 - ROW0) / ROW
gx.plot([0, 12.52], [ys, ys], color='#444444', lw=1.1)
for k in scale_ticks:
    gx.plot([k, k], [ys, ys - 5 / ROW], color='#444444', lw=1.1)
    if k in scale_labels:
        gx.text(k, ys + 0.45, scale_labels[k], ha='center', va='center', fontsize=12.5, color='#333333')
gx.text(-0.45, ys + 0.15, "5'", ha='right', va='center', fontsize=12.5, color='#333333')
gx.text(12.8, ys + 0.15, "3'", ha='left', va='center', fontsize=12.5, color='#333333')

# ---- legend ----
yl = (2587 - ROW0) / ROW
ye = (2605 - ROW0) / ROW
gx.text(0.64, yl, 'legend:', ha='left', va='center', fontsize=12.5, color='#333333')
gx.add_patch(Rectangle((0.66, ye - 0.15), 0.69, 0.3, facecolor='white', edgecolor='#2b2b2b', lw=0.8))
gx.text(1.49, ye, 'exon', ha='left', va='center', fontsize=12.5, color='#333333')
gx.plot([3.32, 4.0], [ye, ye], color='#333333', lw=0.9)
gx.text(4.27, ye, 'intron', ha='left', va='center', fontsize=12.5, color='#333333')
gx.plot([6.6, 7.32], [ye, ye], color='#8c8c8c', lw=3.8, solid_capstyle='butt')
gx.text(7.53, ye, 'UTR', ha='left', va='center', fontsize=12.5, color='#333333')

# ---- panel letters ----
fig.text(46 / W, 1 - 42 / H, 'A', fontsize=32, fontweight='bold', va='baseline')
fig.text(946 / W, 1 - 37 / H, 'B', fontsize=25, fontweight='bold', va='baseline')

fig.savefig('out.png', dpi=100)
